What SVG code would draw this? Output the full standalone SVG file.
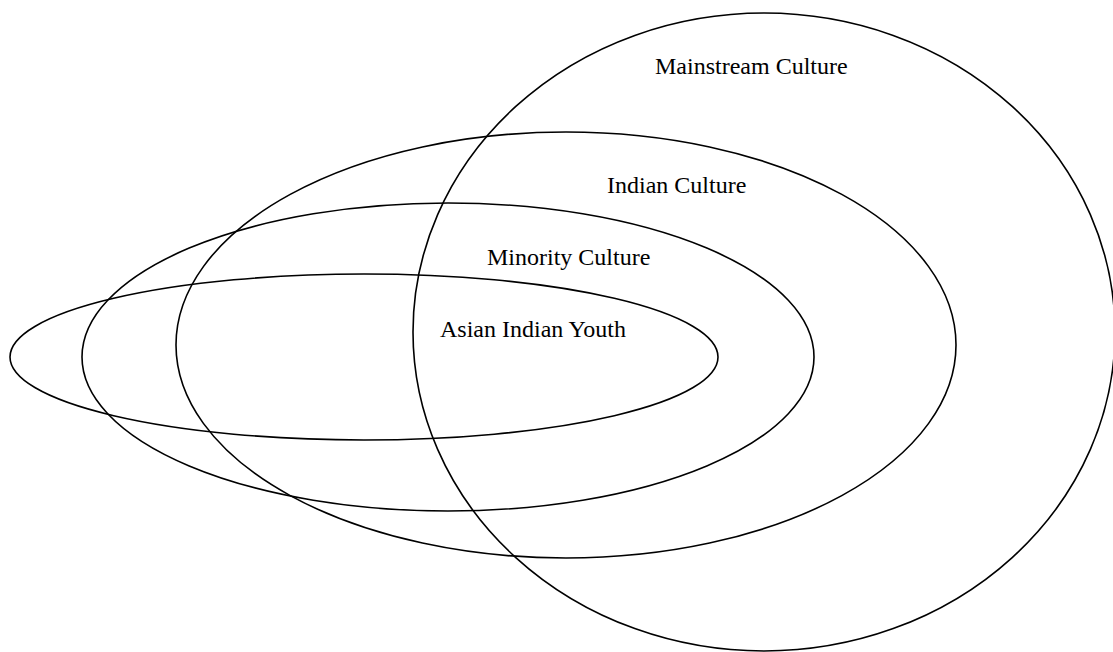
<svg xmlns="http://www.w3.org/2000/svg" width="1113" height="652" viewBox="0 0 1113 652">
<style>
.e{fill:none;stroke:#000;stroke-width:1.6}
.t{font-family:"Liberation Serif","Times New Roman",serif;font-size:24px;fill:#000}
</style>
<rect width="1113" height="652" fill="#fff"/>
<g id="mainstream"><ellipse class="e" cx="764" cy="332" rx="351" ry="319"/><text class="t" x="655" y="74">Mainstream Culture</text></g>
<g id="indian"><ellipse class="e" cx="566" cy="345" rx="390" ry="213"/><text class="t" x="607" y="193">Indian Culture</text></g>
<g id="minority"><ellipse class="e" cx="448" cy="357" rx="366" ry="154"/><text class="t" x="487" y="265">Minority Culture</text></g>
<g id="youth"><ellipse class="e" cx="364" cy="357" rx="354" ry="83"/><text class="t" x="440" y="337">Asian Indian Youth</text></g>
<g id="connectors"/>
</svg>
